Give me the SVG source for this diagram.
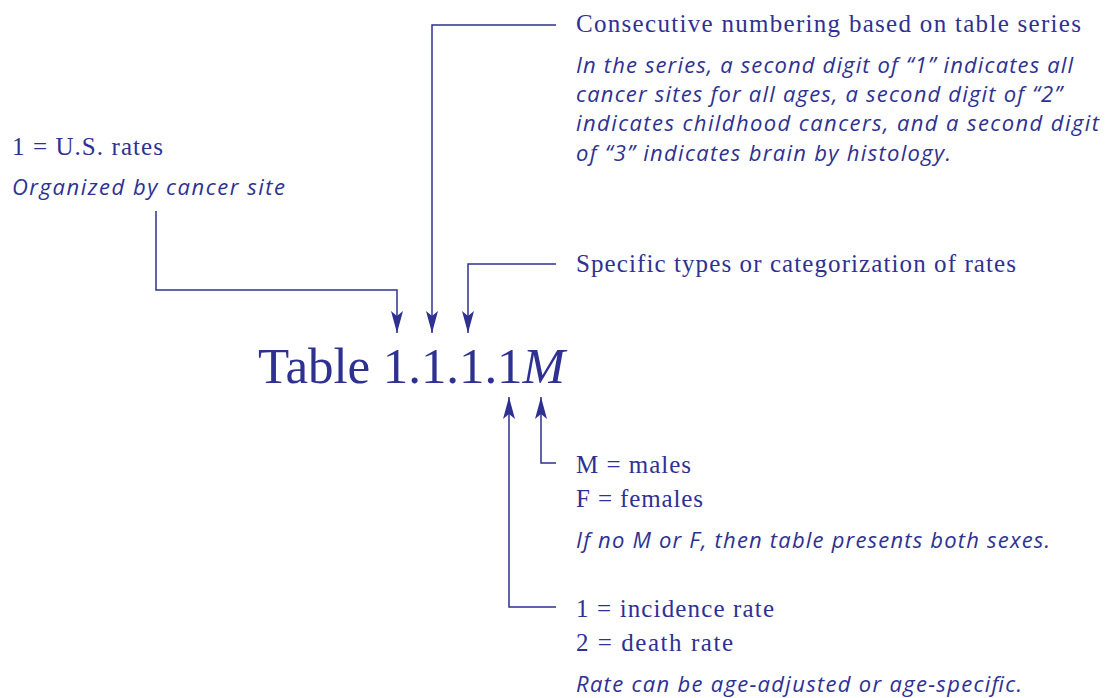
<svg xmlns="http://www.w3.org/2000/svg" width="1109" height="698" viewBox="0 0 1109 698">
<style>
.s{font-family:"Liberation Serif","Times New Roman",serif;fill:#2e3192;font-size:25px}
.i{font-family:"Open Sans","Liberation Sans",sans-serif;font-style:italic;fill:#2e3192;font-size:22px}
.big{font-family:"Liberation Serif","Times New Roman",serif;fill:#2e3192;font-size:51px}
.c{fill:none;stroke:#2e3192;stroke-width:1.5}
</style>
<defs>
<marker id="ah" viewBox="0 0 22 12" refX="22" refY="6" markerWidth="22" markerHeight="12" markerUnits="userSpaceOnUse" orient="auto">
<path d="M0,0 L5,6 L0,12 L22,6 Z" fill="#2e3192"/>
</marker>
</defs>
<rect width="1109" height="698" fill="#fff"/>
<g id="connectors">
<path class="c" d="M156,211 V290 H397 V333" marker-end="url(#ah)"/>
<path class="c" d="M556,25 H432 V333" marker-end="url(#ah)"/>
<path class="c" d="M556,264 H468 V333" marker-end="url(#ah)"/>
<path class="c" d="M556,607 H509 V397" marker-end="url(#ah)"/>
<path class="c" d="M556,463 H541 V397" marker-end="url(#ah)"/>
</g>
<g id="title"><text class="big" x="258" y="383" textLength="307" lengthAdjust="spacing">Table 1.1.1.1<tspan font-style="italic">M</tspan></text></g>
<g id="series">
<text class="s" x="576" y="32" textLength="505" lengthAdjust="spacing">Consecutive numbering based on table series</text>
<text class="i" x="576" y="73" textLength="497" lengthAdjust="spacing">In the series, a second digit of “1” indicates all</text>
<text class="i" x="576" y="102" textLength="486" lengthAdjust="spacing">cancer sites for all ages, a second digit of “2”</text>
<text class="i" x="576" y="131" textLength="523" lengthAdjust="spacing">indicates childhood cancers, and a second digit</text>
<text class="i" x="576" y="161" textLength="375" lengthAdjust="spacing">of “3” indicates brain by histology.</text>
</g>
<g id="us">
<text class="s" x="12" y="155" textLength="151" lengthAdjust="spacing">1 = U.S. rates</text>
<text class="i" x="12" y="195" textLength="273" lengthAdjust="spacing">Organized by cancer site</text>
</g>
<g id="types"><text class="s" x="576" y="272" textLength="440" lengthAdjust="spacing">Specific types or categorization of rates</text></g>
<g id="sex">
<text class="s" x="576" y="473" textLength="115" lengthAdjust="spacing">M = males</text>
<text class="s" x="576" y="507" textLength="127" lengthAdjust="spacing">F = females</text>
<text class="i" x="576" y="548" textLength="474" lengthAdjust="spacing">If no M or F, then table presents both sexes.</text>
</g>
<g id="rate">
<text class="s" x="576" y="617" textLength="198" lengthAdjust="spacing">1 = incidence rate</text>
<text class="s" x="576" y="651" textLength="157" lengthAdjust="spacing">2 = death rate</text>
<text class="i" x="576" y="692" textLength="446" lengthAdjust="spacing">Rate can be age-adjusted or age-specific.</text>
</g>
</svg>
